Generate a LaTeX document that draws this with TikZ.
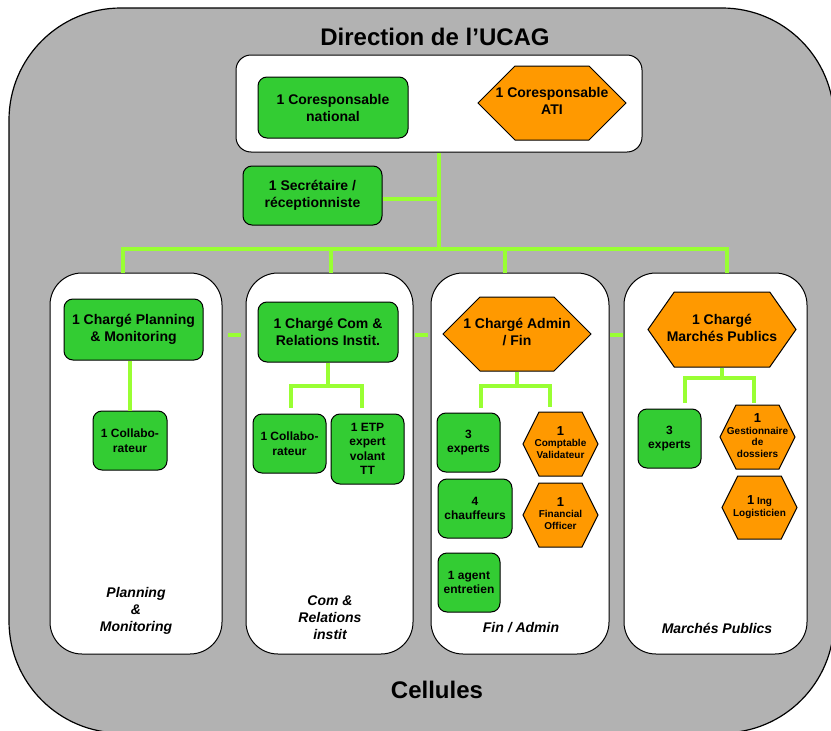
\documentclass[tikz,border=0pt]{standalone}
\usepackage{fontspec}
\setmainfont{Liberation Sans}
\usetikzlibrary{shapes.symbols}
\definecolor{bggray}{RGB}{178,178,178}
\definecolor{boxgreen}{RGB}{51,204,51}
\definecolor{boxorange}{RGB}{255,153,0}
\definecolor{linkgreen}{RGB}{153,255,51}
\def\fnt#1#2{\bfseries\fontsize{#1}{#2}\selectfont}
% text of a hexagon may run into its points
\def\hx#1{\makebox[0pt]{\begin{tabular}{@{}c@{}}#1\end{tabular}}}

\begin{document}
\begin{tikzpicture}[x=1pt, y=-1pt,
	cell/.style={draw, line width=1pt, fill=white, rounded corners=32pt},
	gbox/.style={draw, line width=1pt, fill=boxgreen, rounded corners=9pt, align=center, inner sep=0pt},
	obox/.style={draw, line width=1pt, fill=boxorange, signal, signal to=east and west, inner sep=0pt},
	link/.style={draw=linkgreen, line width=4pt},
	big/.style={font=\fnt{14}{17}},
	small/.style={font=\fnt{12}{14.5}},
	tiny/.style={font=\fnt{10}{11.5}},
	cname/.style={font=\fnt{14}{17}\itshape, align=center}]
			%%%%% START %%%%%
			\useasboundingbox (0,0) rectangle (831,731);
			\draw[fill=bggray, line width=1.2pt, rounded corners=112pt] (9,8) rectangle (834,733);
			
			\node[font=\fnt{24}{28}] (dir) at (435,37) {Direction de l'UCAG};
			\node[font=\fnt{24}{28}] (cel) at (437,690) {Cellules};
			
			% direction
			\node[draw, line width=1pt, fill=white, rounded corners=15pt, minimum width=406, minimum height=97] (top) at (439,103.5) {};
			\node[gbox, big, minimum width=150, minimum height=61] (nat) at (333,107.5) {1 Coresponsable\\national};
			\node[obox, big, signal pointer angle=90, minimum width=148, minimum height=74] (ati) at (552,103) {\hx{1 Coresponsable\\ATI}};
			\node[gbox, big, minimum width=139, minimum height=59] (sec) at (312.5,195.5) {1 Secr\'etaire /\\r\'eceptionniste};
			
			% cellules
			\node[cell, minimum width=172, minimum height=381] (col1) at (136,463.5) {};
			\node[cell, minimum width=167, minimum height=381] (col2) at (329.5,463.5) {};
			\node[cell, minimum width=178, minimum height=381] (col3) at (520,463.5) {};
			\node[cell, minimum width=183, minimum height=381] (col4) at (715.5,463.5) {};
			
			\draw[link] (top.south) -- ++(0,96) coordinate (bus);
			\draw[link] ([yshift=-3.5pt]sec.east) -- ([yshift=-3.5pt]sec.east -| bus);
			\draw[link] ([xshift=-13pt]col1.north) -- ([xshift=-13pt]col1.north |- bus) -- ([xshift=11.5pt]col4.north |- bus) -- ([xshift=11.5pt]col4.north);
			\draw[link] ([xshift=1.5pt]col2.north) -- ([xshift=1.5pt]col2.north |- bus);
			\draw[link] ([xshift=-15pt]col3.north) -- ([xshift=-15pt]col3.north |- bus);
			\foreach \x in {228,415,610}
				\draw[link] (\x,335) -- ++(13,0);
			
			% planning
			\node[gbox, big, minimum width=139, minimum height=61] (pm) at (133.5,329.5) {1 Charg\'e Planning\\\& Monitoring};
			\node[gbox, small, minimum width=74, minimum height=59] (pm1) at (130,440.5) {1 Collabo-\\rateur};
			\draw[link] (pm.south -| pm1.north) -- (pm1.north);
			\node[cname] (pmname) at (136,611) {Planning\\\&\\Monitoring};
			
			% com
			\node[gbox, big, minimum width=140, minimum height=60] (cr) at (328,332) {1 Charg\'e Com \&\\Relations Instit.};
			\node[gbox, small, minimum width=73, minimum height=59] (cr1) at (289.5,443.5) {1 Collabo-\\rateur};
			\node[gbox, small, minimum width=73, minimum height=70] (cr2) at (367.5,449) {1 ETP\\expert\\volant\\TT};
			\draw[link] (cr.south) -- ++(0,23) coordinate (f2);
			\draw[link, shorten >=6pt] (f2) -| ([xshift=1.5pt]cr1.north);
			\draw[link, shorten >=6pt] (f2) -| ([xshift=-5.5pt]cr2.north);
			\node[cname] (crname) at (330,618) {Com \&\\Relations\\instit};
			
			% admin / fin
			\node[obox, big, signal pointer angle=90, minimum width=148, minimum height=74] (af) at (517,334) {\hx{1 Charg\'e Admin\\/ Fin}};
			\node[gbox, small, minimum width=63, minimum height=59] (af1) at (468.5,442.5) {3\\experts};
			\node[obox, tiny, signal pointer angle=127, minimum width=75, minimum height=64] (af2) at (560.5,444) {\hx{{\fontsize{13}{15}\selectfont 1}\\Comptable\\Validateur}};
			\node[gbox, small, minimum width=74, minimum height=59] (af3) at (475,508.5) {4\\chauffeurs};
			\node[obox, tiny, signal pointer angle=127, minimum width=75, minimum height=64] (af4) at (560.5,515) {\hx{{\fontsize{13}{15}\selectfont 1}\\Financial\\Officer}};
			\node[gbox, small, minimum width=62, minimum height=59] (af5) at (469,582.5) {1 agent\\entretien};
			\draw[link] (af.south) -- ++(0,14) coordinate (f3);
			\draw[link, shorten >=5pt] (f3) -| ([xshift=12.5pt]af1.north);
			\draw[link, shorten >=5pt] (f3) -| ([xshift=-10.5pt]af2.north);
			\node[cname] (afname) at (521,628) {Fin / Admin};
			
			% marches publics
			\node[obox, big, signal pointer angle=110, minimum width=148, minimum height=75] (mp) at (722,329.5) {\hx{1 Charg\'e\\March\'es Publics}};
			\node[gbox, small, minimum width=63, minimum height=59] (mp1) at (669.5,438.5) {3\\experts};
			\node[obox, tiny, signal pointer angle=127, minimum width=75, minimum height=64] (mp2) at (757.5,437) {\hx{{\fontsize{13}{15}\selectfont 1}\\Gestionnaire\\de\\dossiers}};
			\node[obox, tiny, signal pointer angle=127, minimum width=75, minimum height=63] (mp3) at (759.5,507.5) {\hx{{\fontsize{13}{15}\selectfont 1} Ing\\Logisticien}};
			\draw[link] (mp.south) -- ++(0,10) coordinate (f4);
			\draw[link, shorten >=6pt] (f4) -| ([xshift=15.5pt]mp1.north);
			\draw[link, shorten >=2pt] (f4) -| ([xshift=-3.5pt]mp2.north);
			\node[cname] (mpname) at (717,628) {March\'es Publics};
			%%%%% END %%%%%
\end{tikzpicture}
\end{document}
